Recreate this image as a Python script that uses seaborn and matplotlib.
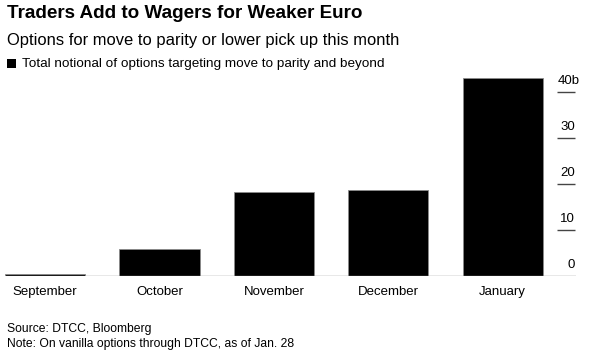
import matplotlib
matplotlib.use("Agg")
import matplotlib.pyplot as plt
import matplotlib.transforms as mtransforms
from matplotlib.patches import Rectangle
import seaborn as sns
import pandas as pd

months = ["September", "October", "November", "December", "January"]
notional_bn = [0.4, 5.9, 18.2, 18.8, 43.2]
yticks = [0, 10, 20, 30, 40]
ytick_labels = ["0", "10", "20", "30", "40b"]

sns.set_theme(style="white")
plt.rcParams['font.family'] = ['Liberation Sans', 'DejaVu Sans']
plt.rcParams['text.color'] = 'black'

W, H = 593, 354
fig = plt.figure(figsize=(W / 100, H / 100), dpi=100)
fig.patch.set_facecolor("white")
ax = fig.add_axes([5 / W, 1 - 276 / H, (576 - 5) / W, (276 - 74) / H])

df = pd.DataFrame({"month": months, "value": notional_bn})
sns.barplot(data=df, x="month", y="value", color="black", width=0.7,
            edgecolor="#8a8a8a", linewidth=0.6, saturation=1, ax=ax)
ax.set_xlim(-0.35, 4.64)
ax.set_ylim(0, 44)
for s in ax.spines.values():
    s.set_visible(False)
ax.set_yticks([])
ax.set_xlabel("")
ax.set_ylabel("")
ax.tick_params(axis='x', length=0, pad=7, labelsize=9.5, labelcolor="black")
ax.axhline(0, color="#8a8a8a", lw=1.0, zorder=5)

trans = mtransforms.blended_transform_factory(ax.transAxes, ax.transData)
x0 = (557 - 5) / 571
x1 = (575 - 5) / 571
for v, lab in zip(yticks, ytick_labels):
    if v != 0:
        ax.plot([x0, x1], [v, v], transform=trans, color="#444444", lw=1.0,
                solid_capstyle="butt", clip_on=False)
    if lab.endswith("b"):
        ax.annotate(lab, xy=(x0, v), xycoords=trans, xytext=(0.5, 6),
                    textcoords="offset points", ha="left", va="baseline",
                    fontsize=9.5, color="black")
    else:
        ax.annotate(lab, xy=(x1, v), xycoords=trans, xytext=(0, 6),
                    textcoords="offset points", ha="right", va="baseline",
                    fontsize=9.5, color="black")

fig.text(7 / W, 1 - 18.5 / H, "Traders Add to Wagers for Weaker Euro",
         fontsize=13.6, fontweight="bold", va="baseline", ha="left")
fig.text(7 / W, 1 - 45 / H, "Options for move to parity or lower pick up this month",
         fontsize=11.9, va="baseline", ha="left")
fig.patches.append(Rectangle((7 / W, 1 - 68 / H), 9 / W, 9 / H,
                             transform=fig.transFigure, facecolor="black",
                             edgecolor="none"))
fig.text(22 / W, 1 - 67 / H, "Total notional of options targeting move to parity and beyond",
         fontsize=9.7, va="baseline", ha="left")
fig.text(7 / W, 1 - 332 / H, "Source: DTCC, Bloomberg",
         fontsize=8.7, va="baseline", ha="left")
fig.text(7 / W, 1 - 347 / H, "Note: On vanilla options through DTCC, as of Jan. 28",
         fontsize=8.7, va="baseline", ha="left")

fig.savefig("out.png", dpi=100)
